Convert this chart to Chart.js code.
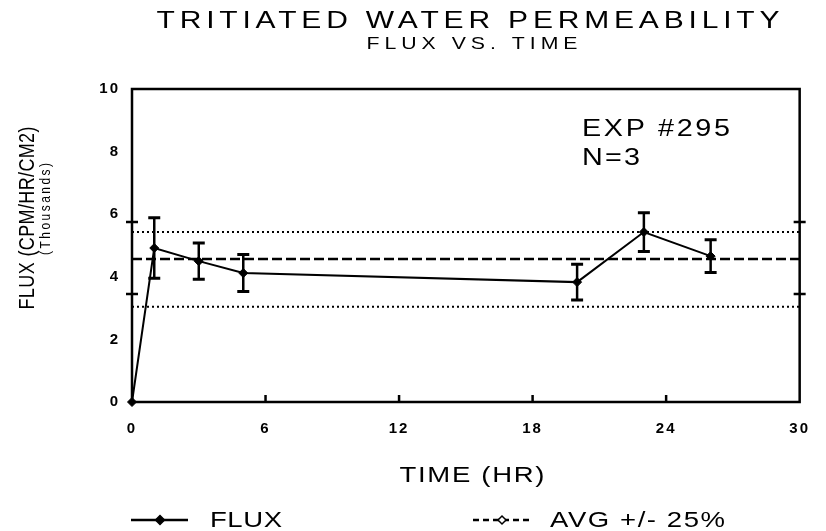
<!DOCTYPE html>
<html>
<head>
<meta charset="utf-8">
<script src="https://cdn.jsdelivr.net/npm/chart.js@4.4.1/dist/chart.umd.min.js"></script>
<style>
  body { margin: 0; background: #fff; }
</style>
</head>
<body>
<canvas id="fluxChart" width="826" height="531"></canvas>
<script>
// Values (flux in thousands of CPM/HR/CM2)
const timeHr = [0, 1, 3, 5, 20, 23, 26];
const fluxK = [0, 4.92, 4.50, 4.12, 3.83, 5.43, 4.66];
const fluxErr = [0, 0.97, 0.58, 0.59, 0.57, 0.62, 0.52];

// Average line and the +/- band
const avgSpan = [0, 30];
const avgFlux = 4.57;
const bandUpper = 5.43;
const bandLower = 3.04;
const bandTicks = [5.75, 3.45];

// Axis ticks
const xTicks = [0, 6, 12, 18, 24, 30];
const yTicks = [0, 2, 4, 6, 8, 10];

const FONT = '"Liberation Sans", Arial, Helvetica, sans-serif';
// the old plot is wider than it is tall, so text is stretched sideways
const STRETCH = 1.25;

// Draw a line of text, stretched sideways and spaced out to a given length
function spacedText(ctx, text, x, y, size, length, opts = {}) {
    ctx.save();
    ctx.font = (opts.weight || 'normal') + ' ' + size + 'px ' + FONT;
    ctx.fillStyle = '#000';
    ctx.textBaseline = 'middle';
    ctx.textAlign = 'left';
    ctx.letterSpacing = '0px';
    const along = opts.rotate ? 1 : STRETCH;
    const natural = ctx.measureText(text).width * along;
    const gap = (length - natural) / (text.length - 1);
    ctx.translate(x, y);
    ctx.scale(STRETCH, 1);
    if (opts.rotate) ctx.rotate(opts.rotate);
    ctx.letterSpacing = (gap / along) + 'px';
    const start = opts.align === 'left' ? 0 : -length / 2;
    ctx.fillText(text, start / along, 0);
    ctx.restore();
}

function diamond(ctx, x, y, r, filled) {
    ctx.beginPath();
    ctx.moveTo(x - r, y);
    ctx.lineTo(x, y - r);
    ctx.lineTo(x + r, y);
    ctx.lineTo(x, y + r);
    ctx.closePath();
    ctx.fillStyle = filled ? '#000' : '#fff';
    ctx.fill();
    ctx.lineWidth = 1.5;
    ctx.strokeStyle = '#000';
    ctx.stroke();
}

// Error bars, drawn through the chart's scales
const errorBars = {
    id: 'errorBars',
    afterDatasetsDraw(chart) {
        const ctx = chart.ctx;
        const xs = chart.scales.x, ys = chart.scales.y;
        ctx.save();
        ctx.strokeStyle = '#000';
        timeHr.forEach((t, i) => {
            if (!fluxErr[i]) return;
            const px = xs.getPixelForValue(t);
            const top = ys.getPixelForValue(fluxK[i] + fluxErr[i]);
            const bot = ys.getPixelForValue(fluxK[i] - fluxErr[i]);
            ctx.lineWidth = 2.5;
            ctx.beginPath();
            ctx.moveTo(px, top);
            ctx.lineTo(px, bot);
            ctx.stroke();
            ctx.lineWidth = 3;
            ctx.beginPath();
            ctx.moveTo(px - 6, top);
            ctx.lineTo(px + 6, top);
            ctx.moveTo(px - 6, bot);
            ctx.lineTo(px + 6, bot);
            ctx.stroke();
        });
        ctx.restore();
    }
};

// Frame, inner tick marks, titles, note and legend
const decorations = {
    id: 'decorations',
    beforeDraw(chart) {
        chart.ctx.letterSpacing = '2px';
    },
    afterDraw(chart) {
        const ctx = chart.ctx;
        const area = chart.chartArea;
        const xs = chart.scales.x, ys = chart.scales.y;
        ctx.save();
        ctx.strokeStyle = '#000';
        ctx.lineWidth = 2.5;
        ctx.strokeRect(area.left, area.top, area.right - area.left, area.bottom - area.top);

        // x tick marks pointing into the plot
        xTicks.slice(1, -1).forEach(v => {
            const px = xs.getPixelForValue(v);
            ctx.beginPath();
            ctx.moveTo(px, area.bottom);
            ctx.lineTo(px, area.bottom - 7);
            ctx.stroke();
        });
        // band tick marks across both side axes
        bandTicks.forEach(v => {
            const py = ys.getPixelForValue(v);
            ctx.beginPath();
            ctx.moveTo(area.left - 6, py);
            ctx.lineTo(area.left + 6, py);
            ctx.moveTo(area.right - 6, py);
            ctx.lineTo(area.right + 6, py);
            ctx.stroke();
        });
        ctx.restore();

        spacedText(ctx, 'TRITIATED WATER PERMEABILITY', 468, 21, 24, 623);
        spacedText(ctx, 'FLUX VS. TIME', 472, 44, 17, 211);
        spacedText(ctx, 'EXP #295', 582, 130, 23, 148, { align: 'left' });
        spacedText(ctx, 'N=3', 582, 159, 23, 58, { align: 'left' });
        spacedText(ctx, 'TIME (HR)', 472, 476, 22, 145);
        spacedText(ctx, 'FLUX (CPM/HR/CM2)', 28, 218, 18, 183, { rotate: -Math.PI / 2 });
        spacedText(ctx, '(Thousands)', 46, 209, 12, 92, { rotate: -Math.PI / 2 });

        // legend
        ctx.save();
        ctx.strokeStyle = '#000';
        ctx.lineWidth = 2.5;
        ctx.beginPath();
        ctx.moveTo(131, 520);
        ctx.lineTo(188, 520);
        ctx.stroke();
        diamond(ctx, 160, 520, 4.5, true);
        ctx.lineWidth = 2.5;
        ctx.setLineDash([6, 4]);
        ctx.beginPath();
        ctx.moveTo(473, 520);
        ctx.lineTo(532, 520);
        ctx.stroke();
        ctx.setLineDash([]);
        diamond(ctx, 502, 520, 4, false);
        ctx.restore();
        spacedText(ctx, 'FLUX', 210, 521, 22, 72, { align: 'left' });
        spacedText(ctx, 'AVG +/- 25%', 550, 521, 22, 175, { align: 'left' });
    }
};

const ctx = document.getElementById('fluxChart').getContext('2d');

new Chart(ctx, {
    type: 'line',
    data: {
        datasets: [
            {
                label: 'FLUX',
                data: timeHr.map((t, i) => ({ x: t, y: fluxK[i] })),
                borderColor: '#000',
                backgroundColor: '#000',
                borderWidth: 2,
                pointStyle: 'rectRot',
                pointRadius: 4.5,
                pointBorderWidth: 1,
                tension: 0,
                clip: false
            },
            {
                label: 'AVG',
                data: avgSpan.map(t => ({ x: t, y: avgFlux })),
                borderColor: '#000',
                borderWidth: 2.5,
                borderDash: [10, 4],
                pointRadius: 0
            },
            {
                label: 'AVG +25%',
                data: avgSpan.map(t => ({ x: t, y: bandUpper })),
                borderColor: '#000',
                borderWidth: 2,
                borderDash: [2, 3],
                pointRadius: 0
            },
            {
                label: 'AVG -25%',
                data: avgSpan.map(t => ({ x: t, y: bandLower })),
                borderColor: '#000',
                borderWidth: 2,
                borderDash: [2, 3],
                pointRadius: 0
            }
        ]
    },
    options: {
        responsive: false,
        animation: false,
        layout: {
            padding: { top: 89, right: 10, bottom: 0, left: 0 }
        },
        plugins: {
            legend: { display: false },
            title: { display: false },
            tooltip: { enabled: false }
        },
        scales: {
            x: {
                type: 'linear',
                min: 0,
                max: 30,
                afterBuildTicks: scale => { scale.ticks = xTicks.map(v => ({ value: v })); },
                afterFit: scale => { scale.height = 129; },
                grid: { display: false, drawTicks: false },
                border: { display: false },
                ticks: {
                    padding: 18,
                    color: '#000',
                    font: { family: FONT, size: 15, weight: 'bold' }
                }
            },
            y: {
                min: 0,
                max: 10,
                afterBuildTicks: scale => { scale.ticks = yTicks.map(v => ({ value: v })); },
                afterFit: scale => { scale.width = 132; },
                grid: { display: false, drawTicks: false },
                border: { display: false },
                ticks: {
                    padding: 12,
                    color: '#000',
                    font: { family: FONT, size: 15, weight: 'bold' }
                }
            }
        }
    },
    plugins: [errorBars, decorations]
});
</script>
</body>
</html>
